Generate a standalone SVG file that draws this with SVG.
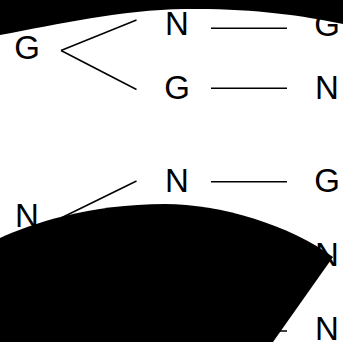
<svg xmlns="http://www.w3.org/2000/svg" width="343" height="342" viewBox="0 0 343 342">
<style>
text{font-family:"Liberation Sans",Arial,sans-serif;font-size:33px;fill:#000;text-anchor:middle}
.e{stroke:#000;stroke-width:1.5;fill:none}
.blob{fill:#000;stroke:none}
</style>
<rect width="343" height="342" fill="#fff"/>
<g id="connectors">
<line class="e" x1="61" y1="50.5" x2="136.5" y2="20"/>
<line class="e" x1="61" y1="50.5" x2="136.5" y2="89.5"/>
<line class="e" x1="211" y1="28.3" x2="287" y2="28.3"/>
<line class="e" x1="211" y1="88.3" x2="287" y2="88.3"/>
<line class="e" x1="61" y1="218" x2="136.5" y2="181"/>
<line class="e" x1="211" y1="181.7" x2="287" y2="181.7"/>
<line class="e" x1="211" y1="331" x2="287" y2="331"/>
</g>
<g id="n1"><text x="27" y="59">G</text></g>
<g id="n2"><text x="177" y="35">N</text></g>
<g id="n3"><text x="327" y="36">G</text></g>
<g id="n4"><text x="177" y="99">G</text></g>
<g id="n5"><text x="327" y="99">N</text></g>
<g id="n6"><text x="27" y="227">N</text></g>
<g id="n7"><text x="177" y="192">N</text></g>
<g id="n8"><text x="327" y="192">G</text></g>
<g id="n9"><text x="327" y="266">N</text></g>
<g id="n10"><text x="327" y="340">N</text></g>
<path class="blob" d="M0,0 L343,0 L343,24 C300,15 250,8 185,9 C120,10 60,24 0,35 Z"/>
<path class="blob" d="M0,238 C30,224 90,204 165,204 C220,204 290,225 333,257 L273,342 L0,342 Z"/>
</svg>
